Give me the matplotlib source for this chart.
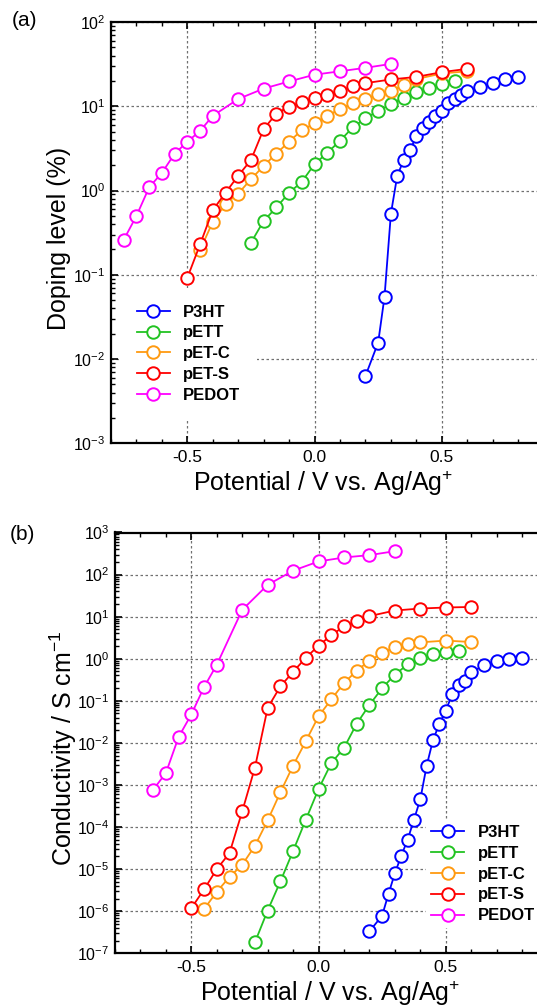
#!/usr/bin/env python3
"""
Doping level (a) and conductivity (b) vs. potential for five polythiophenes.
Writes out.png (537 x 1006 px).
"""

import matplotlib
matplotlib.use("Agg")
import matplotlib.pyplot as plt
import matplotlib.ticker as mtick

# =============================================================================
# DATA
# =============================================================================
P3HT_V = [0.20, 0.25, 0.275, 0.30, 0.325, 0.35, 0.375, 0.40, 0.425, 0.45,
          0.475, 0.50, 0.525, 0.55, 0.575, 0.60, 0.65, 0.70, 0.75, 0.80]
PETT_V = [-0.25, -0.20, -0.15, -0.10, -0.05, 0.0, 0.05, 0.10, 0.15, 0.20,
          0.25, 0.30, 0.35, 0.40, 0.45, 0.50, 0.55]
PETC_V = [-0.45, -0.40, -0.35, -0.30, -0.25, -0.20, -0.15, -0.10, -0.05, 0.0,
          0.05, 0.10, 0.15, 0.20, 0.25, 0.30, 0.35, 0.40, 0.50, 0.60]
PETS_V = [-0.50, -0.45, -0.40, -0.35, -0.30, -0.25, -0.20, -0.15, -0.10, -0.05,
          0.0, 0.05, 0.10, 0.15, 0.20, 0.30, 0.40, 0.50, 0.60]
PEDOT_V_A = [-0.75, -0.70, -0.65, -0.60, -0.55, -0.50, -0.45, -0.40, -0.30,
             -0.20, -0.10, 0.0, 0.10, 0.20, 0.30]
PEDOT_V_B = [-0.65, -0.60, -0.55, -0.50, -0.45, -0.40, -0.30, -0.20, -0.10,
             0.0, 0.10, 0.20, 0.30]

# doping level (%)
P3HT_DOP = [0.0063, 0.0157, 0.055, 0.53, 1.5, 2.28, 3.0, 4.4, 5.55, 6.5,
            7.6, 8.75, 10.8, 12.1, 13.5, 15.0, 16.8, 18.9, 20.8, 22.3]
PETT_DOP = [0.24, 0.436, 0.63, 0.94, 1.27, 2.06, 2.8, 3.9, 5.6, 7.2,
            8.8, 10.6, 12.7, 14.6, 16.6, 18.2, 19.7]
PETC_DOP = [0.196, 0.425, 0.69, 0.92, 1.36, 1.96, 2.75, 3.8, 5.2, 6.25,
            7.7, 9.3, 10.8, 12.3, 13.8, 15.3, 17.7, 21.0, 24.5, 26.0]
PETS_DOP = [0.092, 0.229, 0.585, 0.94, 1.50, 2.30, 5.36, 8.2, 9.9, 11.2,
            12.4, 13.7, 15.2, 17.3, 18.8, 20.8, 22.3, 25.4, 27.8]
PEDOT_DOP = [0.26, 0.50, 1.09, 1.62, 2.73, 3.79, 5.1, 7.7, 12.2, 16.2,
             19.7, 23.7, 26.0, 28.6, 31.8]

# conductivity (S/cm)
P3HT_COND = [3.3e-7, 7.9e-7, 2.6e-6, 8.0e-6, 2.07e-5, 5.0e-5, 1.5e-4, 4.6e-4,
             2.9e-3, 0.0118, 0.0285, 0.058, 0.143, 0.233, 0.30, 0.475, 0.70,
             0.87, 1.0, 1.06]
PETT_COND = [1.83e-7, 1.04e-6, 5.1e-6, 2.7e-5, 1.5e-4, 8.0e-4, 3.3e-3, 7.6e-3,
             0.0286, 0.08, 0.2, 0.42, 0.73, 1.04, 1.27, 1.45, 1.52]
PETC_COND = [1.12e-6, 2.9e-6, 6.5e-6, 1.27e-5, 3.6e-5, 1.44e-4, 6.7e-4, 2.9e-3,
             0.011, 0.043, 0.108, 0.265, 0.52, 0.9, 1.35, 1.9, 2.2, 2.45,
             2.7, 2.5]
PETS_COND = [1.18e-6, 3.3e-6, 1.0e-5, 2.4e-5, 2.36e-4, 2.6e-3, 0.068, 0.22,
             0.49, 1.05, 2.05, 3.6, 5.9, 7.8, 10.3, 14.0, 15.6, 16.5, 17.0]
PEDOT_COND = [7.7e-4, 1.93e-3, 0.0138, 0.0475, 0.212, 0.72, 14.5, 57.0, 124.0,
              205.0, 255.0, 290.0, 360.0]

LABELS = ["P3HT", "pETT", "pET-C", "pET-S", "PEDOT"]
COLORS = ["#0000FF", "#22C322", "#FF9A10", "#FF0000", "#FF00FF"]
X_MAJOR = [-0.5, 0.0, 0.5]

W, H = 537, 1006

plt.rcParams["font.family"] = ["Liberation Sans", "DejaVu Sans"]
plt.rcParams["mathtext.fontset"] = "custom"
plt.rcParams["mathtext.rm"] = "Liberation Sans"
plt.rcParams["mathtext.it"] = "Liberation Sans:italic"
plt.rcParams["mathtext.bf"] = "Liberation Sans:bold"
plt.rcParams["axes.unicode_minus"] = False


def _style_axes(ax, ymin, ymax):
    # axes run on past the right edge of the picture (cropped like the original)
    ax.set_xlim(-0.8, 1.0)
    ax.set_yscale("log")
    ax.set_ylim(ymin, ymax)
    ax.xaxis.set_major_locator(mtick.FixedLocator(X_MAJOR))
    ax.xaxis.set_minor_locator(mtick.MultipleLocator(0.1))
    ax.xaxis.set_major_formatter(mtick.FormatStrFormatter("%.1f"))
    ax.yaxis.set_major_locator(mtick.LogLocator(base=10, numticks=20))
    ax.yaxis.set_minor_locator(mtick.LogLocator(base=10, subs=range(2, 10), numticks=20))
    ax.yaxis.set_minor_formatter(mtick.NullFormatter())
    ax.tick_params(which="both", direction="in", top=True, right=True)
    ax.tick_params(which="major", length=5, width=1.2)
    ax.tick_params(which="minor", length=3, width=1.0)
    ax.tick_params(axis="x", labelsize=12.5, pad=5)
    ax.tick_params(axis="y", labelsize=11.5, pad=4)
    for s in ax.spines.values():
        s.set_linewidth(1.6)
    ax.grid(True, which="major", color="#707070", lw=0.9, ls=(0, (2, 2)))
    ax.set_axisbelow(True)


def _plot_series(ax, series):
    for (xv, yv), lab, col in zip(series, LABELS, COLORS):
        ax.plot(xv, yv, "-o", color=col, lw=1.3, ms=9, mfc="white",
                mec=col, mew=1.4, label=lab)


fig = plt.figure(figsize=(W / 100, H / 100), dpi=100)

# =============================================================================
# (a) doping level
# =============================================================================
ax_a = fig.add_axes([111 / W, (H - 443.3) / H, 458 / W, 421.3 / H])
_style_axes(ax_a, 1e-3, 1e2)
_plot_series(ax_a, [(P3HT_V, P3HT_DOP), (PETT_V, PETT_DOP), (PETC_V, PETC_DOP),
                    (PETS_V, PETS_DOP), (PEDOT_V_A, PEDOT_DOP)])
ax_a.set_xlabel("Potential / V vs. Ag/Ag$^{+}$", fontsize=18)
ax_a.xaxis.label.set_va("center")
ax_a.xaxis.set_label_coords(0.464, -0.095)
ax_a.set_ylabel("Doping level (%)", fontsize=18)
ax_a.yaxis.label.set_va("center")
ax_a.yaxis.set_label_coords(-0.1135, 0.487)
ax_a.legend(loc="upper left", bbox_to_anchor=(120 / W, (H - 288) / H),
            bbox_transform=fig.transFigure, borderaxespad=0, borderpad=1.0,
            frameon=True, fancybox=False, edgecolor="none", facecolor="white",
            framealpha=1, handlelength=2.0, handletextpad=0.8,
            labelspacing=0.35, prop={"weight": "bold", "size": 12})

# =============================================================================
# (b) conductivity
# =============================================================================
ax_b = fig.add_axes([115 / W, (H - 953.3) / H, 458 / W, 420.8 / H])
_style_axes(ax_b, 1e-7, 1e3)
_plot_series(ax_b, [(P3HT_V, P3HT_COND), (PETT_V, PETT_COND), (PETC_V, PETC_COND),
                    (PETS_V, PETS_COND), (PEDOT_V_B, PEDOT_COND)])
ax_b.set_xlabel("Potential / V vs. Ag/Ag$^{+}$", fontsize=18)
ax_b.xaxis.label.set_va("center")
ax_b.xaxis.set_label_coords(0.4694, -0.095)
ax_b.set_ylabel("Conductivity / S cm$^{-1}$", fontsize=18)
ax_b.yaxis.label.set_va("center")
ax_b.yaxis.set_label_coords(-0.1135, 0.486)
ax_b.legend(loc="upper left", bbox_to_anchor=(426 / W, (H - 820) / H),
            bbox_transform=fig.transFigure, borderaxespad=0, borderpad=0.3,
            frameon=True, fancybox=False, edgecolor="none", facecolor="white",
            framealpha=1, handlelength=2.0, handletextpad=0.8,
            labelspacing=0.35, prop={"weight": "bold", "size": 12})

fig.text(12 / W, 1 - 21 / H, "(a)", fontsize=15, ha="left", va="center")
fig.text(10 / W, 1 - 535 / H, "(b)", fontsize=15, ha="left", va="center")

fig.savefig("out.png", dpi=100)
plt.close(fig)
